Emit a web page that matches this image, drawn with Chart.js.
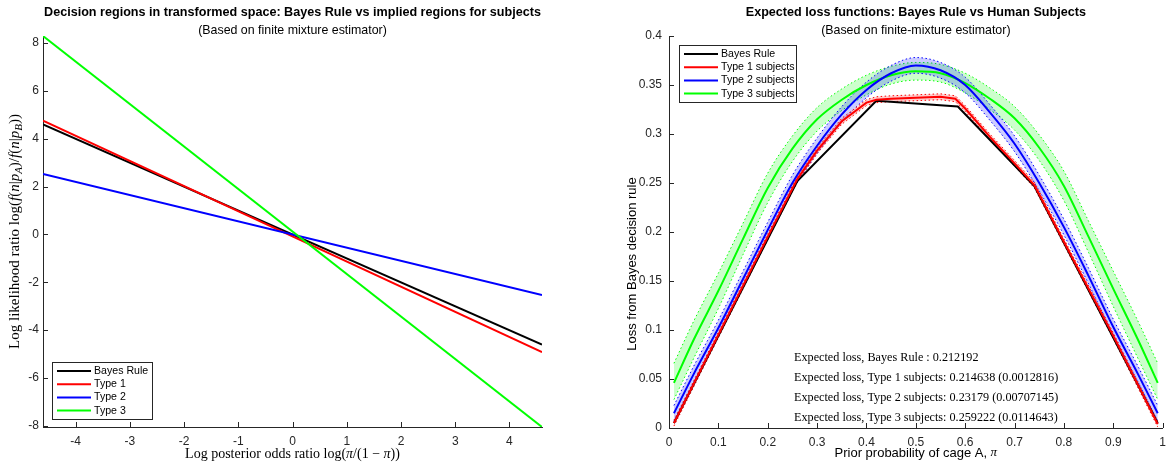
<!DOCTYPE html>
<html>
<head>
<meta charset="utf-8">
<script src="https://cdn.jsdelivr.net/npm/chart.js@4.4.1/dist/chart.umd.min.js"></script>
<style>
  body { margin: 0; background: #fff; }
  .panel { position: absolute; top: 0; height: 465px; }
  #left { left: 0; width: 586px; }
  #right { left: 586px; width: 587px; }
</style>
</head>
<body>
<div class="panel" id="left"><canvas id="leftChart"></canvas></div>
<div class="panel" id="right"><canvas id="rightChart"></canvas></div>
<script>
// left panel: lines in log-odds space
const logOdds = [-4.6, 4.6];
const bayesLine = [4.6, -4.6];
const type1Line = [4.76, -4.92];
const type2Line = [2.53, -2.53];
const type3Line = [8.3, -8.05];

// right panel: expected loss against the prior
const bayesPi = [0.01, 0.26, 0.42, 0.585, 0.74, 0.99];
const bayesLoss = [0.005, 0.252, 0.334, 0.328, 0.247, 0.005];

const type1Pi = [0.01, 0.1, 0.2, 0.26, 0.3, 0.35, 0.4, 0.42, 0.45, 0.5, 0.55, 0.58, 0.6, 0.65, 0.7, 0.74, 0.8, 0.9, 0.99];
const type1Loss = [0.005, 0.095, 0.195, 0.254, 0.283, 0.313, 0.332, 0.335, 0.336, 0.337, 0.338, 0.336, 0.326, 0.297, 0.27, 0.248, 0.19, 0.094, 0.004];
const type1Hi = [0.008, 0.098, 0.198, 0.257, 0.286, 0.316, 0.335, 0.338, 0.339, 0.34, 0.341, 0.339, 0.329, 0.3, 0.273, 0.251, 0.193, 0.097, 0.007];
const type1Lo = [0.002, 0.092, 0.192, 0.251, 0.28, 0.31, 0.329, 0.332, 0.333, 0.334, 0.335, 0.333, 0.323, 0.294, 0.267, 0.245, 0.187, 0.091, 0.001];

const piGrid = [0.01, 0.05, 0.1, 0.15, 0.2, 0.25, 0.3, 0.35, 0.4, 0.45, 0.5, 0.55, 0.6, 0.65, 0.7, 0.75, 0.8, 0.85, 0.9, 0.95, 0.99];
const type2Loss = [0.015, 0.055, 0.102, 0.152, 0.202, 0.25, 0.288, 0.32, 0.345, 0.362, 0.37, 0.365, 0.35, 0.322, 0.29, 0.25, 0.205, 0.155, 0.103, 0.055, 0.015];
const type2Hi = [0.023, 0.063, 0.11, 0.16, 0.21, 0.258, 0.296, 0.328, 0.353, 0.37, 0.378, 0.373, 0.358, 0.33, 0.298, 0.258, 0.213, 0.163, 0.111, 0.063, 0.023];
const type2Lo = [0.007, 0.047, 0.094, 0.144, 0.194, 0.242, 0.28, 0.312, 0.337, 0.354, 0.362, 0.357, 0.342, 0.314, 0.282, 0.242, 0.197, 0.147, 0.095, 0.047, 0.007];
const type3Loss = [0.046, 0.09, 0.14, 0.193, 0.245, 0.285, 0.315, 0.335, 0.35, 0.36, 0.364, 0.362, 0.352, 0.336, 0.316, 0.286, 0.247, 0.195, 0.142, 0.09, 0.046];
const type3Hi = [0.066, 0.109, 0.158, 0.209, 0.26, 0.298, 0.327, 0.346, 0.36, 0.369, 0.373, 0.371, 0.362, 0.347, 0.328, 0.299, 0.262, 0.211, 0.16, 0.109, 0.066];
const type3Lo = [0.029, 0.071, 0.122, 0.177, 0.23, 0.272, 0.303, 0.324, 0.34, 0.351, 0.355, 0.353, 0.342, 0.325, 0.304, 0.273, 0.232, 0.179, 0.124, 0.071, 0.029];

const lossNotes = [
  "Expected loss, Bayes Rule : 0.212192",
  "Expected loss, Type 1 subjects: 0.214638 (0.0012816)",
  "Expected loss, Type 2 subjects: 0.23179 (0.00707145)",
  "Expected loss, Type 3 subjects: 0.259222 (0.0114643)"
];

const INK = "#262626";
const SANS = "'Liberation Sans', Arial, sans-serif";
const SERIF = "'Liberation Serif', 'Times New Roman', serif";

function pts(xs, ys) {
  return xs.map((x, i) => ({ x: x, y: ys[i] }));
}

function fontFor(seg, size) {
  if (seg[1] === "r") return size + "px " + SERIF;
  if (seg[1] === "i") return "italic " + size + "px " + SERIF;
  if (seg[1] === "s") return "italic " + Math.round(size * 0.72) + "px " + SERIF;
  return size + "px " + SANS;
}

// text made of plain / italic / subscript pieces, centred on (cx, cy)
function drawRich(ctx, segs, cx, cy, size, angle) {
  ctx.save();
  ctx.translate(cx, cy);
  ctx.rotate(angle);
  let total = 0;
  segs.forEach(s => { ctx.font = fontFor(s, size); total += ctx.measureText(s[0]).width; });
  let x = -total / 2;
  ctx.fillStyle = "#000";
  ctx.textBaseline = "middle";
  ctx.textAlign = "left";
  segs.forEach(s => {
    ctx.font = fontFor(s, size);
    ctx.fillText(s[0], x, s[1] === "s" ? size * 0.3 : 0);
    x += ctx.measureText(s[0]).width;
  });
  ctx.restore();
}

function drawTitles(chart, title, subtitle) {
  const ctx = chart.ctx;
  const cx = (chart.chartArea.left + chart.chartArea.right) / 2;
  ctx.save();
  ctx.fillStyle = "#000";
  ctx.textAlign = "center";
  ctx.textBaseline = "middle";
  ctx.font = "bold 12.6px " + SANS;
  ctx.fillText(title, cx, 13);
  ctx.font = "12.4px " + SANS;
  ctx.fillText(subtitle, cx, 31);
  ctx.restore();
}

function drawTickMarks(chart) {
  const ctx = chart.ctx;
  const area = chart.chartArea;
  const xs = chart.scales.x, ys = chart.scales.y;
  ctx.save();
  ctx.strokeStyle = INK;
  ctx.lineWidth = 1;
  ctx.beginPath();
  xs.ticks.forEach(t => {
    const px = Math.round(xs.getPixelForValue(t.value)) + 0.5;
    ctx.moveTo(px, area.bottom);
    ctx.lineTo(px, area.bottom - 5);
  });
  ys.ticks.forEach(t => {
    const py = Math.round(ys.getPixelForValue(t.value)) + 0.5;
    ctx.moveTo(area.left, py);
    ctx.lineTo(area.left + 5, py);
  });
  ctx.stroke();
  ctx.restore();
}

function drawLegend(chart, entries, x, y, w, h, lineLen) {
  const ctx = chart.ctx;
  ctx.save();
  ctx.fillStyle = "#fff";
  ctx.fillRect(x, y, w, h);
  ctx.strokeStyle = INK;
  ctx.lineWidth = 1;
  ctx.strokeRect(x + 0.5, y + 0.5, w, h);
  ctx.font = "10.6px " + SANS;
  ctx.textBaseline = "middle";
  ctx.textAlign = "left";
  entries.forEach((e, i) => {
    const ry = y + 9 + i * 13.2;
    ctx.strokeStyle = e[1];
    ctx.lineWidth = 2;
    ctx.beginPath();
    ctx.moveTo(x + 5, ry);
    ctx.lineTo(x + 5 + lineLen, ry);
    ctx.stroke();
    ctx.fillStyle = "#000";
    ctx.fillText(e[0], x + 8 + lineLen, ry);
  });
  ctx.restore();
}

function baseScale(min, max, step, fmt) {
  return {
    type: "linear",
    min: min,
    max: max,
    grid: { display: false, drawTicks: false },
    border: { color: INK, width: 1 },
    ticks: {
      stepSize: step,
      includeBounds: false,
      autoSkip: false,
      maxRotation: 0,
      color: INK,
      font: { family: SANS, size: 12 },
      callback: fmt
    }
  };
}

const fmtNum = v => String(+Number(v).toFixed(2));

// ---------- left chart ----------
const leftX = baseScale(-4.6, 4.6, 1, fmtNum);
leftX.ticks.padding = 7;
leftX.afterFit = s => { s.height = 38; };
const leftY = baseScale(-8.05, 8.3, 2, fmtNum);
leftY.ticks.padding = 4;
leftY.afterFit = s => { s.width = 43; };

const leftDeco = {
  id: "leftDeco",
  afterDraw(chart) {
    const a = chart.chartArea;
    drawTickMarks(chart);
    drawTitles(chart, "Decision regions in transformed space: Bayes Rule vs implied regions for subjects",
      "(Based on finite mixture estimator)");
    drawRich(chart.ctx, [["Log posterior odds ratio log(", "r"], ["\u03C0", "i"], ["/(1 \u2212 ", "r"], ["\u03C0", "i"], ["))", "r"]],
      (a.left + a.right) / 2, 454, 14, 0);
    drawRich(chart.ctx, [["Log likelihood ratio log(", "r"], ["f", "i"], ["(", "r"], ["n", "i"], ["|", "r"], ["p", "i"], ["A", "s"],
      [")/", "r"], ["f", "i"], ["(", "r"], ["n", "i"], ["|", "r"], ["p", "i"], ["B", "s"], ["))", "r"]],
      15, (a.top + a.bottom) / 2, 15, -Math.PI / 2);
    drawLegend(chart, [["Bayes Rule", "#000000"], ["Type 1", "#ff0000"], ["Type 2", "#0000ff"], ["Type 3", "#00ff00"]],
      a.left + 9, a.bottom - 65, 100, 57, 34);
  }
};

function leftLine(label, ys, color, order) {
  return { label: label, data: pts(logOdds, ys), borderColor: color, borderWidth: 2, pointRadius: 0, fill: false, order: order };
}

new Chart(document.getElementById("leftChart"), {
  type: "line",
  data: {
    datasets: [
      leftLine("Bayes Rule", bayesLine, "#000000", 3),
      leftLine("Type 1", type1Line, "#ff0000", 2),
      leftLine("Type 2", type2Line, "#0000ff", 1),
      leftLine("Type 3", type3Line, "#00ff00", 0)
    ]
  },
  options: {
    responsive: true,
    maintainAspectRatio: false,
    animation: false,
    layout: { padding: { top: 36, right: 44, bottom: 0, left: 0 } },
    plugins: { legend: { display: false }, tooltip: { enabled: false } },
    scales: { x: leftX, y: leftY }
  },
  plugins: [leftDeco]
});

// ---------- right chart ----------
const rightX = baseScale(0, 1, 0.1, fmtNum);
rightX.ticks.padding = 7;
rightX.afterFit = s => { s.height = 37; };
const rightY = baseScale(0, 0.4, 0.05, fmtNum);
rightY.ticks.padding = 7;
rightY.afterFit = s => { s.width = 83; };

const rightDeco = {
  id: "rightDeco",
  afterDraw(chart) {
    const a = chart.chartArea;
    const ctx = chart.ctx;
    drawTickMarks(chart);
    drawTitles(chart, "Expected loss functions: Bayes Rule vs Human Subjects", "(Based on finite-mixture estimator)");
    drawRich(ctx, [["Prior probability of cage A, ", "n"], ["\u03C0", "i"]], (a.left + a.right) / 2, 453, 13, 0);
    drawRich(ctx, [["Loss from Bayes decision rule", "n"]], 46, 264, 13, -Math.PI / 2);
    drawLegend(chart, [["Bayes Rule", "#000000"], ["Type 1 subjects", "#ff0000"], ["Type 2 subjects", "#0000ff"], ["Type 3 subjects", "#00ff00"]],
      a.left + 10, a.top + 9, 117, 57, 34);
    ctx.save();
    ctx.fillStyle = "#000";
    ctx.font = "12.2px " + SERIF;
    ctx.textAlign = "left";
    ctx.textBaseline = "middle";
    lossNotes.forEach((t, i) => ctx.fillText(t, 208, 358 + i * 20));
    ctx.restore();
  }
};

function mainLine(label, xs, ys, color, smooth) {
  return {
    label: label, data: pts(xs, ys), borderColor: color, borderWidth: 2, pointRadius: 0, fill: false,
    cubicInterpolationMode: smooth ? "monotone" : "default", tension: smooth ? 0.4 : 0
  };
}

function bandLine(xs, ys, color, fillColor, smooth) {
  return {
    label: "", data: pts(xs, ys), borderColor: color, borderWidth: 1, borderDash: [1.5, 2.5], pointRadius: 0,
    fill: fillColor ? "+1" : false, backgroundColor: fillColor || "transparent",
    cubicInterpolationMode: smooth ? "monotone" : "default", tension: smooth ? 0.4 : 0
  };
}

new Chart(document.getElementById("rightChart"), {
  type: "line",
  data: {
    datasets: [
      mainLine("Type 1 subjects", type1Pi, type1Loss, "#ff0000", false),
      mainLine("Bayes Rule", bayesPi, bayesLoss, "#000000", false),
      mainLine("Type 2 subjects", piGrid, type2Loss, "#0000ff", true),
      mainLine("Type 3 subjects", piGrid, type3Loss, "#00ff00", true),
      bandLine(type1Pi, type1Hi, "#ff0000", "rgba(255,0,0,0.2)", false),
      bandLine(type1Pi, type1Lo, "#ff0000", null, false),
      bandLine(piGrid, type2Hi, "#0000ff", "rgba(0,0,255,0.2)", true),
      bandLine(piGrid, type2Lo, "#0000ff", null, true),
      bandLine(piGrid, type3Hi, "#00ff00", "rgba(0,255,0,0.2)", true),
      bandLine(piGrid, type3Lo, "#00ff00", null, true)
    ]
  },
  options: {
    responsive: true,
    maintainAspectRatio: false,
    animation: false,
    layout: { padding: { top: 36, right: 8, bottom: 0, left: 0 } },
    plugins: { legend: { display: false }, tooltip: { enabled: false } },
    scales: { x: rightX, y: rightY }
  },
  plugins: [rightDeco]
});
</script>
</body>
</html>
